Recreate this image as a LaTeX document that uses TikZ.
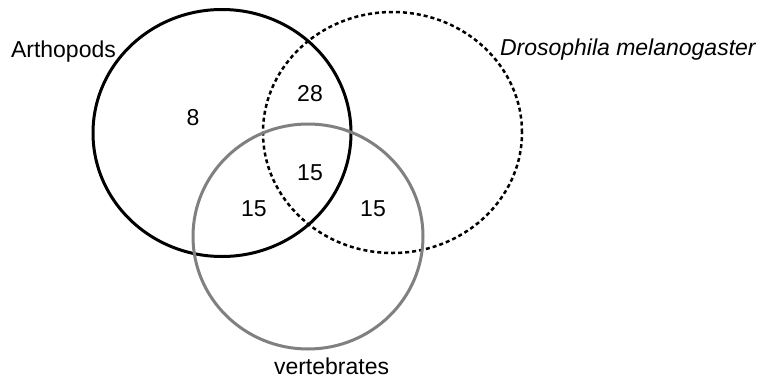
\documentclass[tikz,border=0pt]{standalone}
\usepackage{fontspec}
\setmainfont{Liberation Sans}
\usetikzlibrary{shapes.geometric}
\tikzset{
  setbox/.style={shape=ellipse, inner sep=0pt, outer sep=0pt},
  arthro/.style={setbox, draw=black, line width=3pt},
  droso/.style={setbox, draw=black, line width=2.5pt, dash pattern=on 4pt off 3pt},
  verte/.style={setbox, draw=black!50, line width=3pt},
  lbl/.style={inner sep=0pt, outer sep=0pt, font=\fontsize{23}{27}\selectfont},
  num/.style={lbl, anchor=base}
}
\begin{document}
\begin{tikzpicture}[x=1pt, y=-1pt]
\useasboundingbox (0,0) rectangle (760,380);
\node[arthro, minimum width=258pt, minimum height=247pt] (A) at (222,133) {};
\node[droso, minimum width=259pt, minimum height=241pt] (D) at (392.5,132.5) {};
\node[verte, minimum width=230pt, minimum height=225pt] (V) at (308,236.5) {};
\node[lbl, anchor=base west] (tA) at (11,57) {Arthopods};
\node[lbl, anchor=base west] (tD) at (500,55) {\itshape Drosophila melanogaster};
\node[lbl, anchor=base west] (tV) at (274,374.5) {vertebrates};
\node[num] (n8) at (193,125) {8};
\node[num] (n28) at (310,101) {28};
\node[num] (n15c) at (310,180) {15};
\node[num] (n15l) at (254,216) {15};
\node[num] (n15r) at (373,216) {15};
\end{tikzpicture}
\end{document}
